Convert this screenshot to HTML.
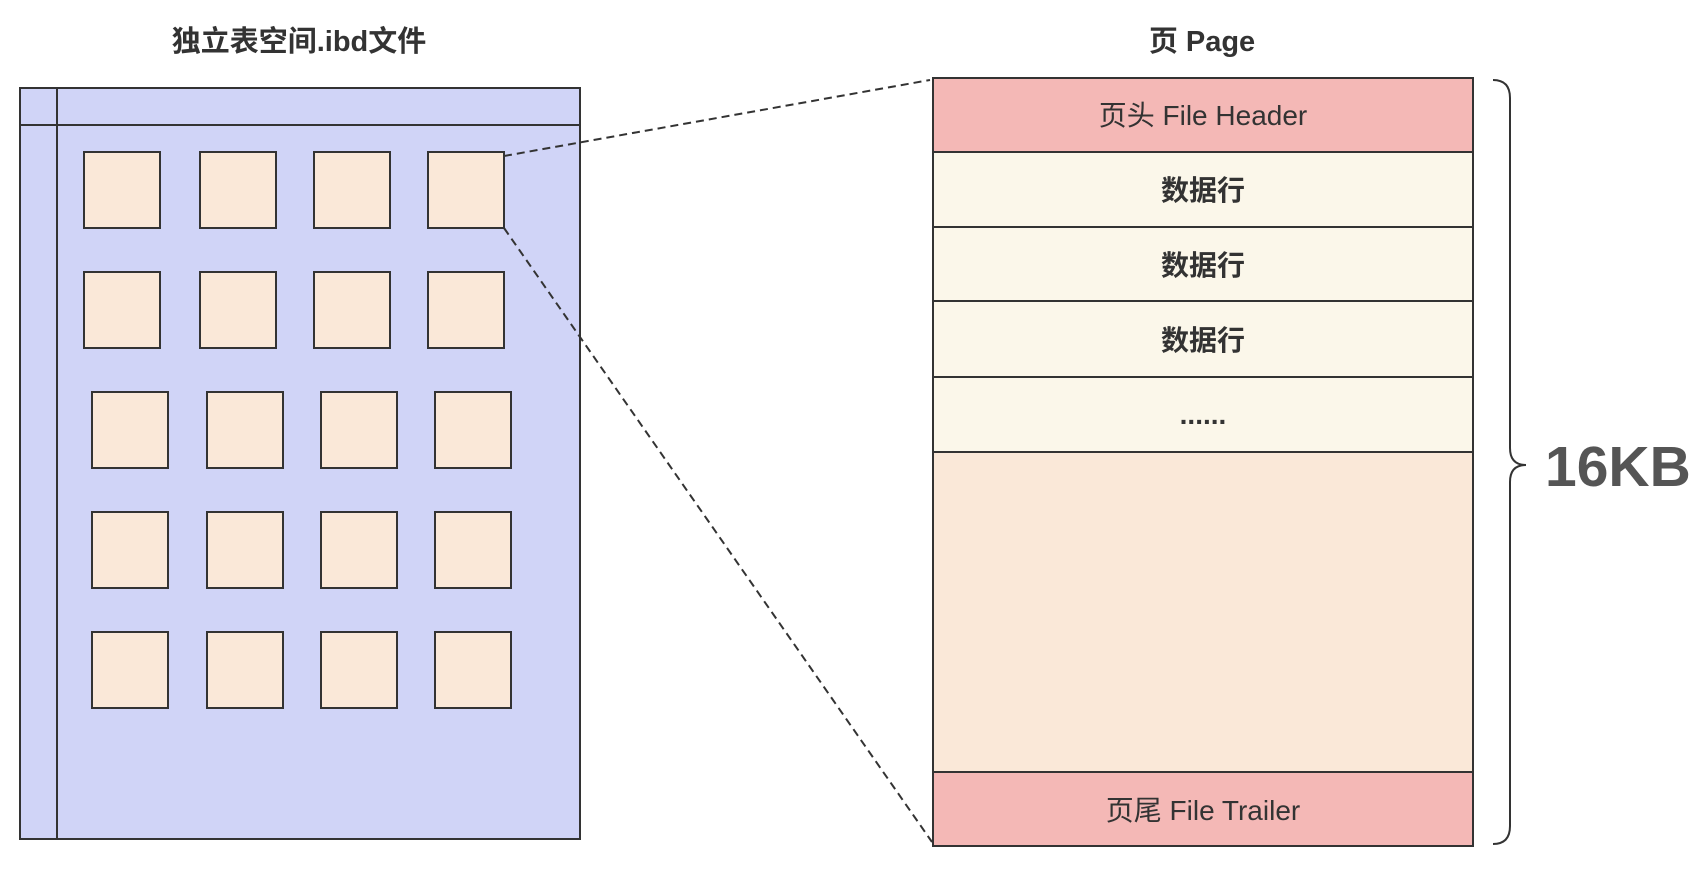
<!DOCTYPE html>
<html><head><meta charset="utf-8"><style>
body{margin:0;background:#fff;width:1694px;height:881px;overflow:hidden}
</style></head><body>
<svg width="1694" height="881" xmlns="http://www.w3.org/2000/svg" font-family="Liberation Sans, Noto Sans CJK SC, sans-serif">
<text x="299" y="51" text-anchor="middle" font-size="29" font-weight="bold" fill="#333">独立表空间.ibd文件</text>
<text x="1202" y="51" text-anchor="middle" font-size="29" font-weight="bold" fill="#333">页 Page</text>
<rect x="20" y="88" width="560" height="751" fill="#d0d4f7" stroke="#333" stroke-width="2"/>
<line x1="20" y1="125" x2="580" y2="125" stroke="#333" stroke-width="2"/>
<line x1="57" y1="88" x2="57" y2="839" stroke="#333" stroke-width="2"/>
<g fill="#fae8d8" stroke="#333" stroke-width="2">
<rect x="84" y="152" width="76" height="76"/><rect x="200" y="152" width="76" height="76"/><rect x="314" y="152" width="76" height="76"/><rect x="428" y="152" width="76" height="76"/>
<rect x="84" y="272" width="76" height="76"/><rect x="200" y="272" width="76" height="76"/><rect x="314" y="272" width="76" height="76"/><rect x="428" y="272" width="76" height="76"/>
<rect x="92" y="392" width="76" height="76"/><rect x="207" y="392" width="76" height="76"/><rect x="321" y="392" width="76" height="76"/><rect x="435" y="392" width="76" height="76"/>
<rect x="92" y="512" width="76" height="76"/><rect x="207" y="512" width="76" height="76"/><rect x="321" y="512" width="76" height="76"/><rect x="435" y="512" width="76" height="76"/>
<rect x="92" y="632" width="76" height="76"/><rect x="207" y="632" width="76" height="76"/><rect x="321" y="632" width="76" height="76"/><rect x="435" y="632" width="76" height="76"/>
</g>
<g stroke="#333" stroke-width="2" stroke-dasharray="8,5" fill="none">
<line x1="504" y1="156" x2="930" y2="80"/>
<line x1="504" y1="228" x2="932" y2="842"/>
</g>
<g stroke="#333" stroke-width="2">
<rect x="933" y="78" width="540" height="74" fill="#f4b8b6"/>
<rect x="933" y="152" width="540" height="75" fill="#fbf7ea"/>
<rect x="933" y="227" width="540" height="74" fill="#fbf7ea"/>
<rect x="933" y="301" width="540" height="76" fill="#fbf7ea"/>
<rect x="933" y="377" width="540" height="75" fill="#fbf7ea"/>
<rect x="933" y="452" width="540" height="320" fill="#fae8d8"/>
<rect x="933" y="772" width="540" height="74" fill="#f4b8b6"/>
</g>
<g text-anchor="middle" font-size="28" fill="#333">
<text x="1203" y="125">页头 File Header</text>
<text x="1203" y="200" font-weight="bold">数据行</text>
<text x="1203" y="275" font-weight="bold">数据行</text>
<text x="1203" y="350" font-weight="bold">数据行</text>
<text x="1203" y="424" font-weight="bold">......</text>
<text x="1203" y="820">页尾 File Trailer</text>
</g>
<path d="M1493 80 Q1510 80 1510 98 L1510 448 Q1510 465 1526 465 Q1510 465 1510 482 L1510 826 Q1510 844 1493 844" fill="none" stroke="#333" stroke-width="2"/>
<text x="1545" y="486" font-size="57" font-weight="bold" fill="#555">16KB</text>
</svg>
</body></html>
